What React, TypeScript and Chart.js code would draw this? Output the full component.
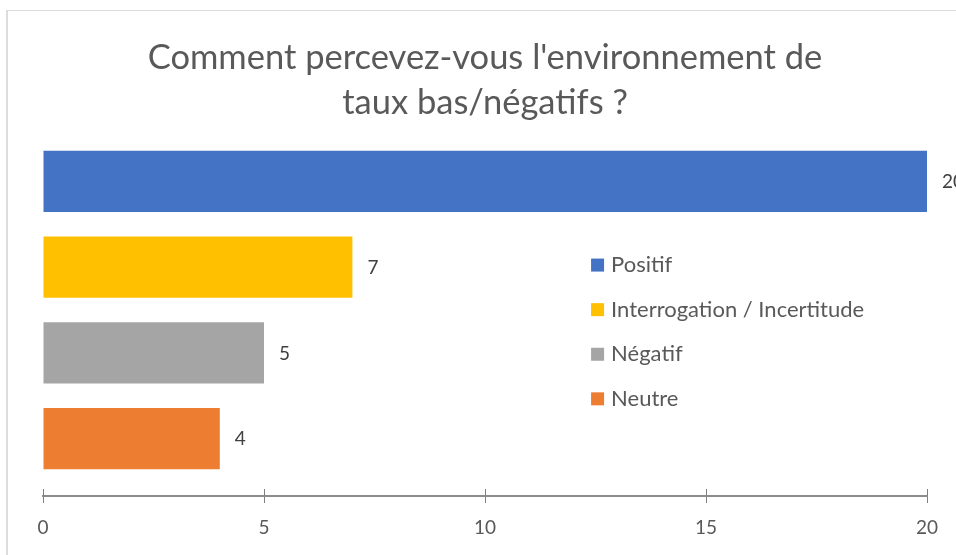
import React, { useEffect, useRef } from 'react';
import { Chart, registerables } from 'chart.js';

Chart.register(...registerables);

const titleLines = ["Comment percevez-vous l'environnement de", 'taux bas/négatifs ?'];
const categories = ['Positif', 'Interrogation / Incertitude', 'Négatif', 'Neutre'];
const values = [20, 7, 5, 4];
const colors = ['#4472C4', '#FFC000', '#A5A5A5', '#ED7D31'];
const xMin = 0;
const xMax = 20;
const xStep = 5;

const FONT = 'Lato, "Open Sans", sans-serif';
const TEXT = '#595959';

const axisShift = {
  id: 'axisShift',
  afterLayout(chart: any) {
    const s = chart.scales.x;
    s.top += 14.5;
    s.bottom += 14.5;
  },
};

const tickStubs = {
  id: 'tickStubs',
  afterDraw(chart: any) {
    const s = chart.scales.x;
    const ctx = chart.ctx;
    ctx.save();
    ctx.strokeStyle = '#7f7f7f';
    ctx.lineWidth = 1;
    s.ticks.forEach((_t: any, i: number) => {
      const px = Math.round(s.getPixelForTick(i)) + 0.5;
      ctx.beginPath();
      ctx.moveTo(px, s.top - 7);
      ctx.lineTo(px, s.top);
      ctx.stroke();
    });
    ctx.restore();
  },
};

const dataLabels = {
  id: 'dataLabels',
  afterDatasetsDraw(chart: any) {
    const ctx = chart.ctx;
    const meta = chart.getDatasetMeta(0);
    ctx.save();
    ctx.font = `19px ${FONT}`;
    ctx.fillStyle = '#404040';
    ctx.textAlign = 'left';
    ctx.textBaseline = 'middle';
    meta.data.forEach((bar: any, i: number) => {
      ctx.fillText(String(values[i]), bar.x + 15, bar.y + 0.5);
    });
    ctx.restore();
  },
};

const innerLegend = {
  id: 'innerLegend',
  afterDraw(chart: any) {
    const { ctx, chartArea } = chart;
    const x0 = chartArea.left + chartArea.width * 0.62;
    const y0 = chartArea.top + chartArea.height * 0.369;
    const step = chartArea.height * 0.13;
    ctx.save();
    ctx.font = `22px ${FONT}`;
    ctx.textAlign = 'left';
    ctx.textBaseline = 'middle';
    categories.forEach((c, i) => {
      const y = y0 + i * step;
      ctx.fillStyle = colors[i];
      ctx.fillRect(x0, y - 6.5, 13, 13);
      ctx.fillStyle = TEXT;
      ctx.fillText(c, x0 + 20, y);
    });
    ctx.restore();
  },
};

export default function App() {
  const ref = useRef<HTMLCanvasElement>(null);
  useEffect(() => {
    document.body.style.margin = '0';
    const chart = new Chart(ref.current as HTMLCanvasElement, {
      type: 'bar',
      data: {
        labels: categories,
        datasets: [
          {
            data: values,
            backgroundColor: colors,
            barPercentage: 1 / 1.4,
            categoryPercentage: 1,
          },
        ],
      },
      options: {
        indexAxis: 'y',
        responsive: false,
        animation: false,
        layout: { padding: { left: 43, right: 29, top: 0, bottom: 17.5 } },
        plugins: {
          legend: { display: false },
          tooltip: { enabled: false },
          title: {
            display: true,
            text: titleLines,
            color: TEXT,
            font: { family: FONT, size: 34.5, weight: 'normal', lineHeight: '45px' },
            padding: { top: 35, bottom: 13.5 },
          },
        },
        scales: {
          y: { display: false, offset: true },
          x: {
            min: xMin,
            max: xMax,
            ticks: {
              stepSize: xStep,
              color: TEXT,
              padding: 13.1,
              font: { family: FONT, size: 19 },
              maxRotation: 0,
            },
            grid: {
              drawOnChartArea: false,
              tickLength: 7,
              color: '#7f7f7f',
              lineWidth: 1,
            },
            border: { display: true, color: '#8c8c8c', width: 2 },
          },
        },
      },
      plugins: [axisShift, tickStubs, dataLabels, innerLegend],
    });
    return () => chart.destroy();
  }, []);
  return (
    <div style={{ position: 'relative', width: 956, height: 555, overflow: 'hidden', background: '#fff' }}>
      <div
        style={{
          position: 'absolute',
          left: 6,
          top: 10,
          width: 1200,
          height: 1200,
          borderLeft: '2px solid #dcdcdc',
          borderTop: '1px solid #dcdcdc',
        }}
      />
      <canvas ref={ref} width={956} height={555} style={{ position: 'absolute', left: 0, top: 0 }} />
    </div>
  );
}
